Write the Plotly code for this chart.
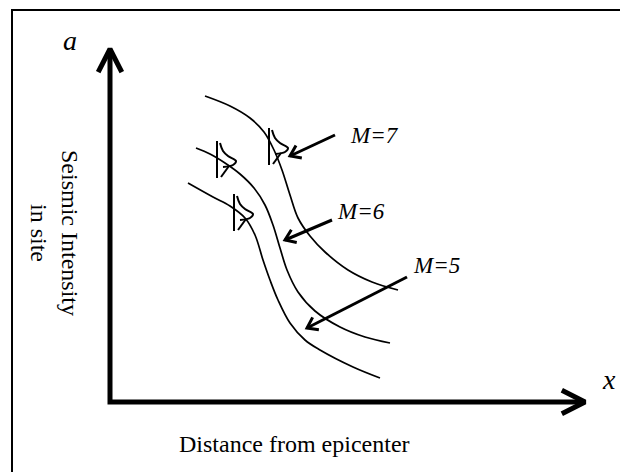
import numpy as np
import plotly.graph_objects as go

# ============================================
# DATA — schematic attenuation curves (pixel space of the sketch)
# ============================================
m7_x = [205, 230, 250, 264, 274, 282, 290, 298, 310, 325, 348, 372, 398]
m7_y = [96, 106, 118, 132, 150, 170, 195, 218, 236, 252, 270, 282, 290]

m6_x = [196, 210, 225, 240, 254, 265, 273, 280, 287, 298, 315, 340, 365, 390]
m6_y = [148, 154, 163, 174, 188, 205, 225, 248, 270, 292, 311, 327, 337, 343]

m5_x = [188, 213, 230, 245, 255, 263, 270, 278, 290, 305, 320, 353, 380]
m5_y = [183, 197, 206, 218, 235, 260, 280, 300, 323, 340, 350, 367, 378]

# scatter glyph centres (vertical tick + half bell) on each curve
glyph_x = [269, 217, 234]
glyph_y = [147, 160, 213]
# half-bell profile relative to the tick (dx, dy)
bell_dx = [3, 6, 11, 19, 16, 6]
bell_dy = [-17, -9, -4, 1, 5, 7]
tail_dx = [12, 4]
tail_dy = [6, 17]

labels = ['M=7', 'M=6', 'M=5']
label_x = [348, 335, 411]
label_y = [135, 211, 265]
arrow_tail = [(335, 135), (332, 220), (407, 277)]
arrow_tip = [(290, 156), (285, 240), (307, 328)]

origin = (110, 402)
y_tip = (110, 49)
x_tip = (585, 402)

C = {'ink': '#000000', 'bg': '#ffffff'}
FONT = 'Liberation Serif, Times New Roman, serif'
PAD = 8  # page body margin


def chevron(tail, tip, length, half_angle):
    tail, tip = np.array(tail, float), np.array(tip, float)
    d = (tip - tail) / np.linalg.norm(tip - tail)
    out = []
    for s in (1, -1):
        a = np.radians(half_angle) * s
        r = np.array([[np.cos(a), -np.sin(a)], [np.sin(a), np.cos(a)]])
        out.append(tip - length * (r @ d))
    return out


fig = go.Figure()

# --- curves
for xs, ys in [(m7_x, m7_y), (m6_x, m6_y), (m5_x, m5_y)]:
    fig.add_trace(go.Scatter(x=xs, y=ys, mode='lines',
                             line=dict(color=C['ink'], width=1.7, shape='spline'),
                             hoverinfo='skip'))

# --- scatter glyphs
for gx, gy in zip(glyph_x, glyph_y):
    fig.add_trace(go.Scatter(x=[gx, gx], y=[gy - 19, gy + 18], mode='lines',
                             line=dict(color=C['ink'], width=2), hoverinfo='skip'))
    fig.add_trace(go.Scatter(x=[gx + d for d in bell_dx], y=[gy + d for d in bell_dy],
                             mode='lines', line=dict(color=C['ink'], width=2, shape='spline'),
                             hoverinfo='skip'))
    fig.add_trace(go.Scatter(x=[gx + d for d in tail_dx], y=[gy + d for d in tail_dy],
                             mode='lines', line=dict(color=C['ink'], width=2),
                             hoverinfo='skip'))

# --- label arrows
for tail, tip in zip(arrow_tail, arrow_tip):
    fig.add_trace(go.Scatter(x=[tail[0], tip[0]], y=[tail[1], tip[1]], mode='lines',
                             line=dict(color=C['ink'], width=3), hoverinfo='skip'))
    w1, w2 = chevron(tail, tip, 12, 35)
    fig.add_trace(go.Scatter(x=[w1[0], tip[0], w2[0]], y=[w1[1], tip[1], w2[1]],
                             mode='lines', line=dict(color=C['ink'], width=3),
                             hoverinfo='skip'))

# --- axes arrows
fig.add_trace(go.Scatter(x=[y_tip[0], origin[0], x_tip[0]],
                         y=[y_tip[1] + 2, origin[1], x_tip[1]], mode='lines',
                         line=dict(color=C['ink'], width=5), hoverinfo='skip'))
for tail, tip in [(origin, y_tip), (origin, x_tip)]:
    w1, w2 = chevron(tail, tip, 26, 27)
    fig.add_trace(go.Scatter(x=[w1[0], tip[0], w2[0]], y=[w1[1], tip[1], w2[1]],
                             mode='lines', line=dict(color=C['ink'], width=5),
                             hoverinfo='skip'))

# --- texts
for t, lx, ly in zip(labels, label_x, label_y):
    fig.add_annotation(x=lx, y=ly, text=f'<i>{t}</i>', showarrow=False,
                       xanchor='left', yanchor='middle',
                       font=dict(family=FONT, size=23, color=C['ink']))

fig.add_annotation(x=70, y=40, text='<i>a</i>', showarrow=False,
                   font=dict(family=FONT, size=28, color=C['ink']))
fig.add_annotation(x=609, y=379, text='<i>x</i>', showarrow=False,
                   font=dict(family=FONT, size=28, color=C['ink']))
fig.add_annotation(x=294, y=444, text='Distance from epicenter', showarrow=False,
                   font=dict(family=FONT, size=24, color=C['ink']))
fig.add_annotation(x=55, y=233, text='Seismic Intensity<br>in site', showarrow=False,
                   textangle=90, font=dict(family=FONT, size=24, color=C['ink']))

# --- frame
fig.add_shape(type='rect', x0=12, y0=10, x1=640, y1=480,
              line=dict(color=C['ink'], width=2))

fig.update_layout(
    width=628 - PAD, height=472 - PAD, autosize=False,
    margin=dict(l=0, r=0, t=0, b=0),
    paper_bgcolor=C['bg'], plot_bgcolor=C['bg'],
    showlegend=False,
)
fig.update_xaxes(range=[PAD, 628], visible=False, fixedrange=True)
fig.update_yaxes(range=[472, PAD], visible=False, fixedrange=True)

fig.write_html('out.html', config={'displayModeBar': False})
